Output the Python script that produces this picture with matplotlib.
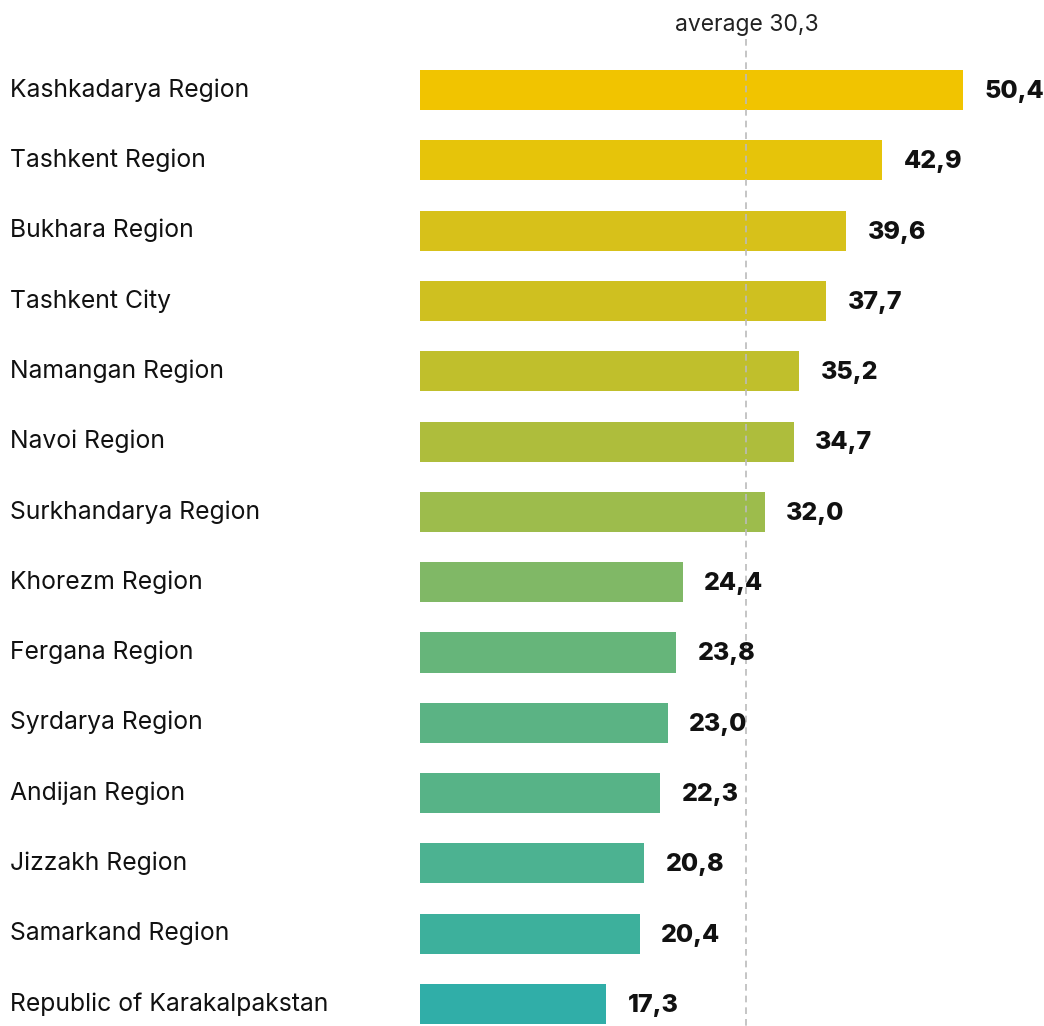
import matplotlib.pyplot as plt

plt.rcParams['font.family'] = ['Inter', 'DejaVu Sans']

regions = ["Kashkadarya Region", "Tashkent Region", "Bukhara Region", "Tashkent City",
           "Namangan Region", "Navoi Region", "Surkhandarya Region", "Khorezm Region",
           "Fergana Region", "Syrdarya Region", "Andijan Region", "Jizzakh Region",
           "Samarkand Region", "Republic of Karakalpakstan"]
values = [50.4, 42.9, 39.6, 37.7, 35.2, 34.7, 32.0, 24.4, 23.8, 23.0, 22.3, 20.8, 20.4, 17.3]
average = 30.3
colors = ["#F1C400", "#E6C40A", "#D7C11A", "#CFC020", "#C0BF2C", "#AEBD3C", "#9DBC4C",
          "#80B866", "#66B57A", "#5BB384", "#57B387", "#4CB291", "#3DB09C", "#30AEA8"]

W, H = 1044, 1026
fig = plt.figure(figsize=(W / 100, H / 100), dpi=100)
ax = fig.add_axes([420 / W, 0, 1 - 420 / W, 1])

pos = list(range(len(regions)))
ax.barh(pos, values, height=0.57, color=colors)

ax.set_xlim(0, (W - 420) / 10.77)
ax.set_ylim(13 + 22 / 70.3, -90 / 70.3)
ax.axis('off')

ax.plot([average, average], [-0.72, 13.4], ls=(0, (4, 3)), color="#BBBBBB", lw=1.2, clip_on=False)
ax.text(average, -0.93, "average 30,3", ha='center', va='center', fontsize=16.5, color="#222222")

for i, (name, v) in enumerate(zip(regions, values)):
    ax.text(v + 2.0, i + 0.02, f"{v:.1f}".replace('.', ','), ha='left', va='center',
            fontsize=18, fontweight='heavy', color="#111111")
    fig.text(10 / W, 1 - (90 + 70.3 * i) / H, name, ha='left', va='center',
             fontsize=17.8, color="#111111")

fig.savefig("out.png", dpi=100)
